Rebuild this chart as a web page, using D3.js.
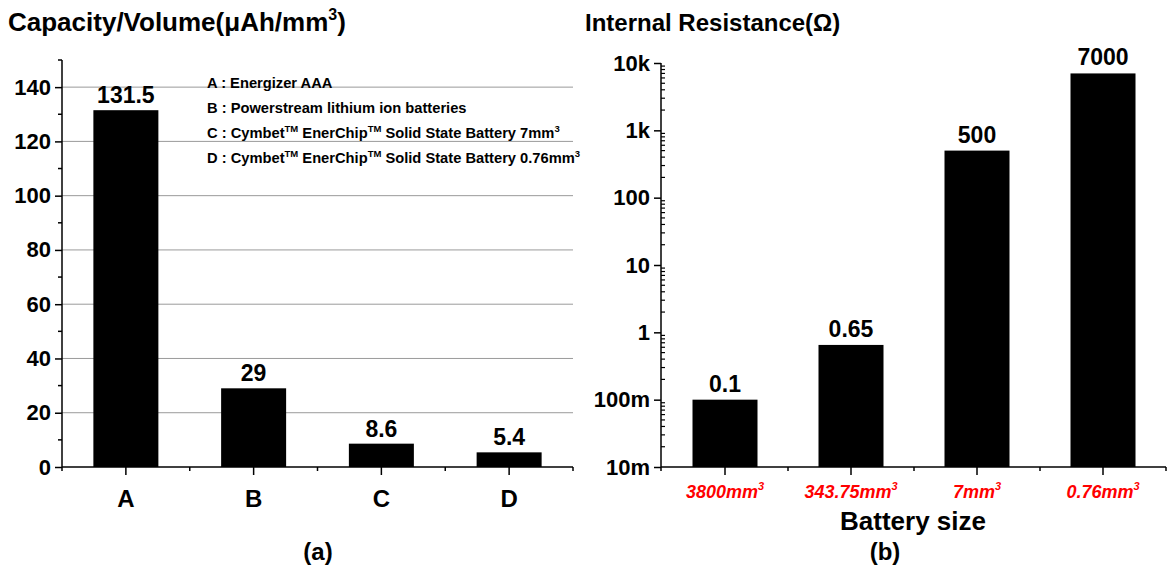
<!DOCTYPE html>
<html>
<head>
<meta charset="utf-8">
<script src="https://cdn.jsdelivr.net/npm/d3@7"></script>
<style>
  body { margin: 0; background: #fff; }
  text { font-family: "Liberation Sans", Arial, sans-serif; font-weight: bold; }
</style>
</head>
<body>
<div id="chart"></div>
<script>
// left panel: capacity per volume
var capCats = ["A", "B", "C", "D"];
var capValues = [131.5, 29, 8.6, 5.4];
var capLabels = ["131.5", "29", "8.6", "5.4"];
var capTicks = [0, 20, 40, 60, 80, 100, 120, 140];
var legendItems = [
  ["A : Energizer AAA"],
  ["B : Powerstream lithium ion batteries"],
  ["C : Cymbet", "TM", " EnerChip", "TM", " Solid State Battery 7mm", "3"],
  ["D : Cymbet", "TM", " EnerChip", "TM", " Solid State Battery 0.76mm", "3"]
];

// right panel: internal resistance
var resCats = ["3800mm", "343.75mm", "7mm", "0.76mm"];
var resValues = [0.1, 0.65, 500, 7000];
var resLabels = ["0.1", "0.65", "500", "7000"];
var resTicks = [0.01, 0.1, 1, 10, 100, 1000, 10000];
var resTickLabels = ["10m", "100m", "1", "10", "100", "1k", "10k"];

var FONT = "'Liberation Sans', Arial, sans-serif";

var svg = d3.select("#chart").append("svg")
  .attr("width", 1169)
  .attr("height", 575);

// ---------- panel (a) ----------
var x1 = d3.scaleBand().domain(capCats).range([62, 573]);
var y1 = d3.scaleLinear().domain([0, 150]).range([467, 60]);
var bw1 = 65;

svg.append("text").attr("x", 8).attr("y", 31).style("font-size", "26px")
  .html('Capacity/Volume(μAh/mm<tspan dy="-11" style="font-size:16px">3</tspan><tspan dy="11">)</tspan>');

// grid
svg.append("g").selectAll("line")
  .data(capTicks.filter(d => d > 0))
  .enter().append("line")
  .attr("x1", 62).attr("x2", 573)
  .attr("y1", d => y1(d)).attr("y2", d => y1(d))
  .attr("stroke", "#9a9a9a").attr("stroke-width", 1);

// bars
svg.append("g").selectAll("rect")
  .data(capValues)
  .enter().append("rect")
  .attr("x", (d, i) => x1(capCats[i]) + x1.bandwidth() / 2 - bw1 / 2)
  .attr("y", d => y1(d))
  .attr("width", bw1)
  .attr("height", d => y1(0) - y1(d))
  .attr("fill", "#000");

svg.append("g").selectAll("text")
  .data(capLabels)
  .enter().append("text")
  .attr("x", (d, i) => x1(capCats[i]) + x1.bandwidth() / 2)
  .attr("y", (d, i) => y1(capValues[i]) - 7)
  .attr("text-anchor", "middle")
  .style("font-size", "23px")
  .text(d => d);

// y axis
var yAx1 = svg.append("g").attr("transform", "translate(62,0)")
  .call(d3.axisLeft(y1).tickValues(capTicks).tickSize(7).tickPadding(4));
yAx1.select(".domain").attr("d", "M0," + y1(150) + "V" + y1(0)).attr("stroke-width", 1.5);
yAx1.selectAll(".tick text").style("font-size", "22px").style("font-family", FONT);
yAx1.selectAll(".tick line").attr("stroke-width", 1.5);
svg.append("g").selectAll("line")
  .data(d3.range(10, 151, 20))
  .enter().append("line")
  .attr("x1", 62).attr("x2", 58)
  .attr("y1", d => y1(d)).attr("y2", d => y1(d))
  .attr("stroke", "#000").attr("stroke-width", 1.5);

// x axis
var xAx1 = svg.append("g").attr("transform", "translate(0,467)")
  .call(d3.axisBottom(x1).tickSize(8).tickPadding(15));
xAx1.select(".domain").attr("d", "M62,0H573").attr("stroke-width", 1.5);
xAx1.selectAll(".tick text").style("font-size", "24px").style("font-family", FONT);
xAx1.selectAll(".tick line").attr("stroke-width", 1.5);
svg.append("g").selectAll("line")
  .data([62].concat(capCats.map(c => x1(c) + x1.bandwidth())))
  .enter().append("line")
  .attr("x1", d => d).attr("x2", d => d)
  .attr("y1", 467).attr("y2", 471)
  .attr("stroke", "#000").attr("stroke-width", 1.5);

// legend
legendItems.forEach(function(parts, i) {
  var t = svg.append("text").attr("x", 207).attr("y", 88 + i * 25).style("font-size", "14.7px");
  var up = false;
  parts.forEach(function(p, j) {
    var isSup = (p === "TM" || (j === parts.length - 1 && p === "3"));
    var ts = t.append("tspan").text(p);
    if (isSup) ts.style("font-size", "9.5px");
    if (isSup && !up) { ts.attr("dy", -6); up = true; }
    else if (!isSup && up) { ts.attr("dy", 6); up = false; }
  });
});

svg.append("text").attr("x", 318).attr("y", 560).attr("text-anchor", "middle")
  .style("font-size", "24px").text("(a)");

// ---------- panel (b) ----------
var x2 = d3.scaleBand().domain(resCats).range([662, 1166]);
var y2 = d3.scaleLog().domain([0.01, 10000]).range([467, 63]);
var bw2 = 65;

svg.append("text").attr("x", 585).attr("y", 31).style("font-size", "24px")
  .text("Internal Resistance(Ω)");

svg.append("g").selectAll("rect")
  .data(resValues)
  .enter().append("rect")
  .attr("x", (d, i) => x2(resCats[i]) + x2.bandwidth() / 2 - bw2 / 2)
  .attr("y", d => y2(d))
  .attr("width", bw2)
  .attr("height", d => y2(0.01) - y2(d))
  .attr("fill", "#000");

svg.append("g").selectAll("text")
  .data(resLabels)
  .enter().append("text")
  .attr("x", (d, i) => x2(resCats[i]) + x2.bandwidth() / 2)
  .attr("y", (d, i) => y2(resValues[i]) - 8)
  .attr("text-anchor", "middle")
  .style("font-size", "23px")
  .text(d => d);

// y axis (log)
var yAx2 = svg.append("g").attr("transform", "translate(661,0)")
  .call(d3.axisLeft(y2).tickValues(resTicks).tickFormat((d, i) => resTickLabels[i]).tickSize(7).tickPadding(4));
yAx2.select(".domain").attr("d", "M0," + y2(10000) + "V" + y2(0.01)).attr("stroke-width", 1.5);
yAx2.selectAll(".tick text").style("font-size", "22px").style("font-family", FONT);
yAx2.selectAll(".tick line").attr("stroke-width", 1.5);
var minor2 = [];
resTicks.slice(0, -1).forEach(function(t) {
  for (var k = 2; k <= 9; k++) minor2.push(t * k);
});
svg.append("g").selectAll("line")
  .data(minor2)
  .enter().append("line")
  .attr("x1", 661).attr("x2", 665)
  .attr("y1", d => y2(d)).attr("y2", d => y2(d))
  .attr("stroke", "#000").attr("stroke-width", 1.2);

// x axis
var xAx2 = svg.append("g").attr("transform", "translate(0,467)")
  .call(d3.axisBottom(x2).tickSize(8).tickFormat(""));
xAx2.select(".domain").attr("d", "M661,0H1166").attr("stroke-width", 1.5);
xAx2.selectAll(".tick line").attr("stroke-width", 1.5);
svg.append("g").selectAll("line")
  .data([661].concat(resCats.map(c => x2(c) + x2.bandwidth())))
  .enter().append("line")
  .attr("x1", d => d).attr("x2", d => d)
  .attr("y1", 467).attr("y2", 471)
  .attr("stroke", "#000").attr("stroke-width", 1.5);

svg.append("g").selectAll("text")
  .data(resCats)
  .enter().append("text")
  .attr("x", d => x2(d) + x2.bandwidth() / 2)
  .attr("y", 498)
  .attr("text-anchor", "middle")
  .attr("fill", "#ff0000")
  .style("font-size", "18px")
  .style("font-style", "italic")
  .html(d => d + '<tspan dy="-8" style="font-size:11px">3</tspan>');

svg.append("text").attr("x", 913).attr("y", 530).attr("text-anchor", "middle")
  .style("font-size", "26px").text("Battery size");

svg.append("text").attr("x", 885).attr("y", 560).attr("text-anchor", "middle")
  .style("font-size", "24px").text("(b)");
</script>
</body>
</html>
